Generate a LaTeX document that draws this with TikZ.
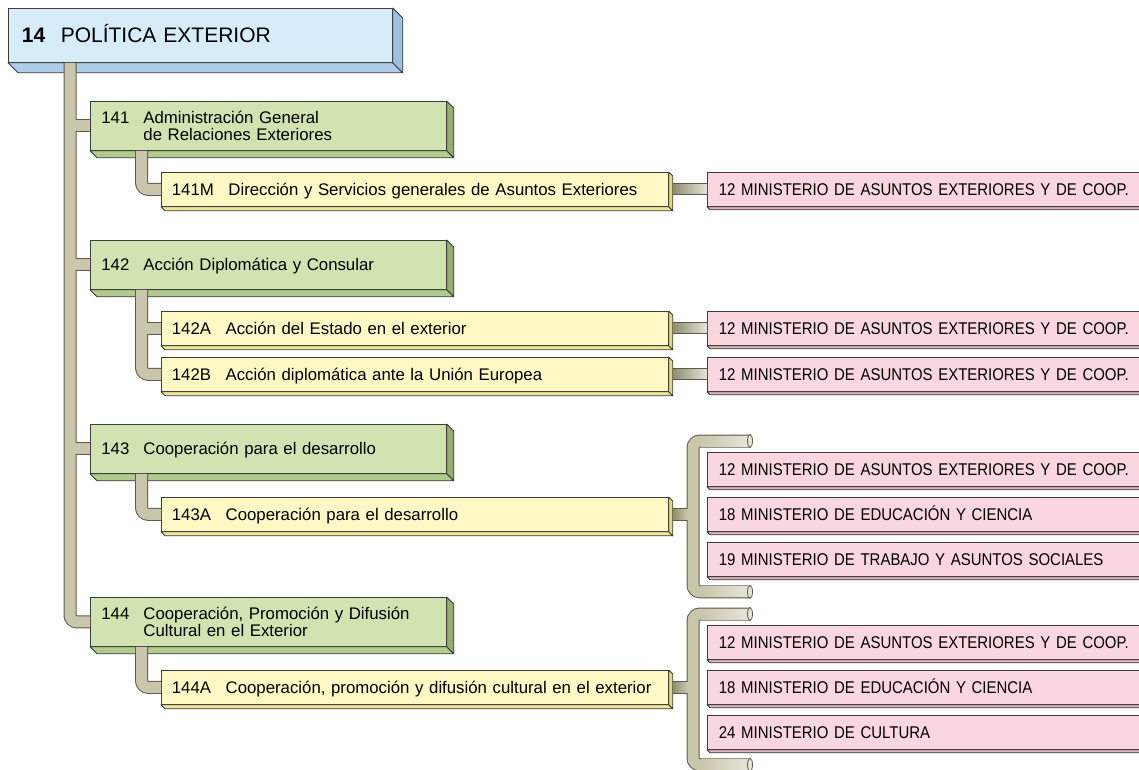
\documentclass[tikz,border=0pt]{standalone}
\usepackage{fontspec}
\setmainfont{Liberation Sans}
\newfontfamily\pinkfont[FakeStretch=0.88]{Liberation Sans}
\usetikzlibrary{calc}
\definecolor{boxline}{HTML}{3C3C3C}
\definecolor{titleF}{HTML}{D7ECF9}
\definecolor{titleS}{HTML}{9DC0E0}
\definecolor{titleB}{HTML}{AFCDE9}
\definecolor{greenF}{HTML}{D0E3B1}
\definecolor{greenS}{HTML}{94AE6E}
\definecolor{greenB}{HTML}{B0CB8B}
\definecolor{yelF}{HTML}{FDF8C4}
\definecolor{yelS}{HTML}{E2D77C}
\definecolor{yelB}{HTML}{EFE596}
\definecolor{pinkF}{HTML}{FAD6DE}
\definecolor{pinkB}{HTML}{DDB0BA}
\definecolor{pipeL}{HTML}{5E5B49}
\definecolor{pipeF}{HTML}{CAC6AC}
\definecolor{pipeD}{HTML}{8E8B6E}
\definecolor{pipeH}{HTML}{E6E5D9}

% 3D extrusion of a box node: #1 node, #2 depth, #3 side colour, #4 bottom colour
\newcommand\extrude[4]{%
  \filldraw[fill=#4, draw=boxline, line width=0.8pt, line join=round]
    (#1.south west) -- ($(#1.south west)+(#2,#2)$) -- ($(#1.south east)+(#2,#2)$) -- (#1.south east) -- cycle;
  \filldraw[fill=#3, draw=boxline, line width=0.8pt, line join=round]
    (#1.north east) -- ($(#1.north east)+(#2,#2)$) -- ($(#1.south east)+(#2,#2)$) -- (#1.south east) -- cycle;}

% shaded connector from a programme box to a ministry box
\newcommand\hconn[2]{%
  \shade[left color=pipeD, right color=pipeH] ($(#1.east)+(4,-5.5)$) rectangle ($(#1.east -| #2.west)+(0,5.5)$);
  \draw[pipeL, line width=0.9pt] ($(#1.east)+(4,-5.5)$) -- ($(#1.east -| #2.west)+(0,-5.5)$);
  \draw[pipeL, line width=0.9pt] ($(#1.east)+(4,5.5)$) -- ($(#1.east -| #2.west)+(0,5.5)$);}

% the pipe network (drawn twice: outline, then fill)
\newcommand\treepaths[1]{%
  \draw[#1] (trtop) -- (g144.west -| trtop) -- (g144.west);
  \draw[#1] (g141.west -| trtop) -- (g141.west);
  \draw[#1] (g142.west -| trtop) -- (g142.west);
  \draw[#1] (g143.west -| trtop) -- (g143.west);
  \draw[#1] (s141) -- (y141M.west -| s141) -- (y141M.west);
  \draw[#1] (s142) -- (y142B.west -| s142) -- (y142B.west);
  \draw[#1] (y142A.west -| s142) -- (y142A.west);
  \draw[#1] (s143) -- (y143A.west -| s143) -- (y143A.west);
  \draw[#1] (s144) -- (y144A.west -| s144) -- (y144A.west);
  \draw[#1] (b3t) -- (b3t -| b3x) -- (b3b -| b3x) -- (b3b);
  \draw[#1] ($(y143A.east)+(4,0)$) -- (y143A.east -| b3x);
  \draw[#1] (b4t) -- (b4t -| b4x) -- (b4b -| b4x) -- (b4b);
  \draw[#1] ($(y144A.east)+(4,0)$) -- (y144A.east -| b4x);}

% gradient overlays and end caps of a bracket: #1 yellow node, #2 top end, #3 bottom end, #4 x
\newcommand\brackettrim[4]{%
  \shade[left color=pipeD, right color=pipeF] ($(#1.east)+(4,-5)$) rectangle ($(#1.east -| #4)+(-6,5)$);
  \shade[left color=pipeF, right color=pipeH] ($(#2 -| #4)+(8,-5)$) rectangle ($(#2)+(0,5)$);
  \shade[left color=pipeF, right color=pipeH] ($(#3 -| #4)+(8,-5)$) rectangle ($(#3)+(0,5)$);
  \filldraw[fill=pipeH, draw=pipeL, line width=0.8pt] (#2) ellipse [x radius=2.5pt, y radius=6.5pt];
  \filldraw[fill=pipeH, draw=pipeL, line width=0.8pt] (#3) ellipse [x radius=2.5pt, y radius=6.5pt];}

\begin{document}
\begin{tikzpicture}[x=1pt,y=-1pt,
  box/.style={draw=boxline, line width=0.8pt, anchor=north west, inner ysep=0pt, align=left},
  titlebox/.style={box, fill=titleF, minimum height=54pt, text width=357pt, inner xsep=13.5pt,
    font=\fontsize{21}{21}\selectfont, text height=15pt, text depth=0pt},
  greenbox/.style={box, fill=greenF, minimum height=49pt, text width=334pt, inner xsep=11pt,
    font=\fontsize{16.8}{16.6}\selectfont, text height=12pt, text depth=0pt},
  greentwo/.style={greenbox, text depth=16.6pt},
  yelbox/.style={box, fill=yelF, minimum height=34pt, text width=486pt, inner xsep=10.5pt,
    font=\fontsize{16.8}{16.6}\selectfont, text height=12pt, text depth=0pt},
  pinkbox/.style={box, fill=pinkF, minimum height=34pt, text width=422pt, inner xsep=11.5pt,
    font=\pinkfont\fontsize{17}{17}\selectfont, text height=12.2pt, text depth=0pt},
  pipeout/.style={draw=pipeL, line width=13pt, rounded corners=7pt},
  pipein/.style={draw=pipeF, line width=11pt, rounded corners=7pt}]

\fill[white] (0,0) rectangle (1139,769);
\useasboundingbox (0,0) rectangle (1139,769);

% title
\node[titlebox] (t14) at (8,8) {{\bfseries 14}\hspace{15.5pt}POLÍTICA EXTERIOR};

% functions
\node[greentwo] (g141) at (90,101) {141\hspace{14pt}Administración General\\\hphantom{141}\hspace*{14pt}de Relaciones Exteriores};
\node[greenbox] (g142) at (90,240) {142\hspace{14pt}Acción Diplomática y Consular};
\node[greenbox] (g143) at (90,424) {143\hspace{14pt}Cooperación para el desarrollo};
\node[greentwo] (g144) at (90,597) {144\hspace{14pt}Cooperación, Promoción y Difusión\\\hphantom{144}\hspace*{14pt}Cultural en el Exterior};

% programmes
\node[yelbox] (y141M) at (161,172) {141M\hspace{14.5pt}Dirección y Servicios generales de Asuntos Exteriores};
\node[yelbox] (y142A) at (161,311) {142A\hspace{14.5pt}Acción del Estado en el exterior};
\node[yelbox] (y142B) at (161,357) {142B\hspace{14.5pt}Acción diplomática ante la Unión Europea};
\node[yelbox] (y143A) at (161,497) {143A\hspace{14.5pt}Cooperación para el desarrollo};
\node[yelbox] (y144A) at (161,670) {144A\hspace{14.5pt}Cooperación, promoción y difusión cultural en el exterior};

% ministries
\node[pinkbox] (p141M) at (707,172) {12 MINISTERIO DE ASUNTOS EXTERIORES Y DE COOP.};
\node[pinkbox] (p142A) at (707,311) {12 MINISTERIO DE ASUNTOS EXTERIORES Y DE COOP.};
\node[pinkbox] (p142B) at (707,357) {12 MINISTERIO DE ASUNTOS EXTERIORES Y DE COOP.};
\node[pinkbox] (p143a) at (707,452) {12 MINISTERIO DE ASUNTOS EXTERIORES Y DE COOP.};
\node[pinkbox] (p143b) at (707,497) {18 MINISTERIO DE EDUCACIÓN Y CIENCIA};
\node[pinkbox] (p143c) at (707,542) {19 MINISTERIO DE TRABAJO Y ASUNTOS SOCIALES};
\node[pinkbox] (p144a) at (707,625) {12 MINISTERIO DE ASUNTOS EXTERIORES Y DE COOP.};
\node[pinkbox] (p144b) at (707,670) {18 MINISTERIO DE EDUCACIÓN Y CIENCIA};
\node[pinkbox] (p144c) at (707,715) {24 MINISTERIO DE CULTURA};

% 3D faces
\extrude{t14}{10}{titleS}{titleB}
\foreach \n in {g141,g142,g143,g144}{\extrude{\n}{7}{greenS}{greenB}}
\foreach \n in {y141M,y142A,y142B,y143A,y144A}{\extrude{\n}{4}{yelS}{yelB}}
\foreach \n in {p141M,p142A,p142B,p143a,p143b,p143c,p144a,p144b,p144c}{\extrude{\n}{3}{pinkB}{pinkB}}

% pipe anchor points
\coordinate (trtop) at ($(t14.south west)+(62,0)$);
\coordinate (s141) at ($(g141.south west)+(51.5,0)$);
\coordinate (s142) at ($(g142.south west)+(51.5,0)$);
\coordinate (s143) at ($(g143.south west)+(51.5,0)$);
\coordinate (s144) at ($(g144.south west)+(51.5,0)$);
\coordinate (b3t) at ($(p143a.north west)+(43,-11)$);
\coordinate (b3b) at ($(p143c.south west)+(43,15)$);
\coordinate (b3x) at ($(p143a.west)+(-14,0)$);
\coordinate (b4t) at ($(p144a.north west)+(43,-11)$);
\coordinate (b4b) at ($(p144c.south west)+(43,15)$);
\coordinate (b4x) at ($(p144a.west)+(-14,0)$);

% pipes
\treepaths{pipeout}
\treepaths{pipein}
\brackettrim{y143A}{b3t}{b3b}{b3x}
\brackettrim{y144A}{b4t}{b4b}{b4x}
\hconn{y141M}{p141M}
\hconn{y142A}{p142A}
\hconn{y142B}{p142B}
\end{tikzpicture}
\end{document}
